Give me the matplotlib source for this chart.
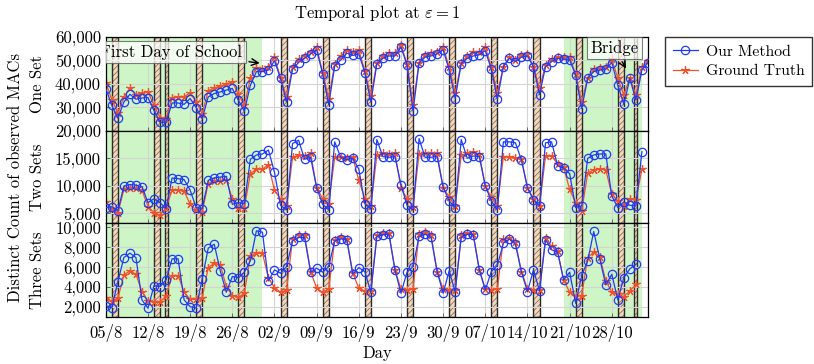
import matplotlib
matplotlib.use("Agg")
import matplotlib.pyplot as plt
import numpy as np
from matplotlib.ticker import FuncFormatter

plt.rcParams["font.family"] = "cmr10"
plt.rcParams["mathtext.fontset"] = "cm"
plt.rcParams["axes.formatter.use_mathtext"] = True
plt.rcParams["font.size"] = 12
plt.rcParams["hatch.linewidth"] = 0.6

# x = day index, starting at 05/8
tick_days = [0, 7, 14, 21, 28, 35, 42, 49, 56, 63, 70, 77, 84]
tick_labels = ["05/8", "12/8", "19/8", "26/8", "02/9", "09/9", "16/9", "23/9",
               "30/9", "07/10", "14/10", "21/10", "28/10"]
holiday_spans = [(0, 26), (76, 89)]
weekend_bars = [(1, 2), (8, 9), (15, 16), (22, 23), (29, 30), (36, 37), (43, 44),
                (50, 51), (57, 58), (64, 65), (71, 72), (78, 79), (85, 86)]
narrow_bars = [(9.75, 10.25), (87.75, 88.25)]

one_ours = [37900, 30800, 25300, 32200, 35500, 33400, 33900, 34100, 28600, 23500,
            23600, 31800, 31800, 31200, 33700, 29800, 25000, 34400, 35800, 36500,
            37300, 38000, 33000, 28300, 39400, 45200, 45200, 45900, 49900, 42300,
            32200, 46200, 49100, 50900, 52800, 54500, 44200, 31100, 47600, 50200,
            53100, 52100, 52800, 44800, 32200, 48500, 50900, 51900, 51900, 55700,
            48100, 28300, 48800, 51400, 51900, 52800, 54500, 45900, 33700, 48500,
            50900, 51900, 52400, 54200, 46200, 33400, 47300, 50900, 49500, 51400,
            51900, 47100, 35400, 47300, 49500, 50900, 50500, 50200, 43700, 29400,
            42300, 45200, 45900, 46200, 49100, 39400, 31200, 42300, 33000, 45900,
            49100]
one_truth = [40400, 33100, 27600, 34400, 38000, 35400, 36100, 36500, 30800, 25400,
             25000, 34100, 34400, 34400, 36100, 32200, 27200, 37000, 38300, 39000,
             39900, 40900, 35500, 30800, 42300, 46600, 46200, 47300, 51400, 42600,
             34400, 47300, 50500, 51900, 53800, 55700, 44800, 33700, 48500, 51700,
             54500, 53800, 54500, 45500, 34700, 49100, 51900, 53100, 53100, 56700,
             48500, 30800, 49100, 52400, 53100, 53800, 55700, 47100, 36100, 49100,
             51900, 53400, 53400, 55700, 47300, 36100, 47300, 51400, 50200, 52400,
             52800, 47300, 38000, 48100, 50500, 51400, 51400, 51400, 44200, 32200,
             42600, 46200, 46600, 47100, 50500, 42300, 35100, 42600, 35100, 47300,
             49900]

two_ours = [6040, 6160, 5440, 9940, 10240, 10120, 9820, 6940, 7660, 6940,
            5860, 11430, 11310, 11130, 9220, 6040, 5860, 11010, 11430, 11610,
            11730, 6640, 6940, 6760, 14850, 15630, 15810, 16530, 12450, 6460,
            5620, 17720, 18320, 14850, 15210, 9640, 6640, 5620, 18020, 15210,
            14730, 15030, 13050, 6760, 5740, 18440, 15330, 15210, 15330, 10240,
            6460, 5620, 18620, 15210, 15210, 15330, 9760, 7240, 6040, 18440,
            15030, 15450, 15330, 9940, 7240, 5620, 18020, 18020, 17840, 14730,
            9640, 7420, 6340, 17840, 18020, 13650, 13230, 12210, 6040, 6340,
            15030, 15630, 15810, 15810, 8140, 6040, 7060, 6460, 6340, 16230]
two_truth = [7060, 5740, 5020, 9340, 9640, 9520, 9220, 6220, 5140, 4670,
             6040, 9160, 9160, 9040, 6640, 5620, 5260, 10420, 10840, 10950,
             11130, 7660, 6040, 6040, 12210, 13050, 13050, 13830, 9220, 7540,
             6340, 15210, 15630, 15450, 15930, 9640, 7660, 6640, 15210, 15330,
             15030, 15210, 11010, 7660, 6340, 15630, 15930, 15810, 15930, 9640,
             7660, 6160, 15810, 15930, 15930, 15930, 9640, 8020, 6340, 15630,
             15930, 16230, 15810, 9940, 7900, 6340, 15330, 15210, 15030, 14850,
             9640, 7660, 6340, 15450, 15450, 14010, 13410, 9340, 6940, 5440,
             12330, 12930, 13050, 12930, 8440, 7240, 6340, 7540, 7420, 13050]

three_ours = [2120, 1920, 4540, 6960, 7400, 6960, 2700, 1860, 4140, 4040,
              4710, 6830, 6830, 2700, 2020, 1860, 4810, 7900, 8300, 5620,
              3470, 5050, 4950, 5480, 6630, 9650, 9510, 4610, 5720, 5380,
              6050, 8640, 8980, 8980, 5480, 5890, 5480, 6050, 8640, 8840,
              8740, 5280, 5950, 5550, 3470, 9080, 9250, 9310, 5720, 3370,
              5480, 6050, 9080, 9310, 8980, 5550, 3370, 5620, 3530, 8980,
              9310, 9250, 5720, 3700, 5550, 6160, 8400, 8840, 8300, 5480,
              3530, 5720, 3600, 8740, 7740, 7500, 4710, 5480, 2360, 5150,
              6630, 9580, 6830, 4210, 5280, 2700, 4950, 5820, 6290]
three_truth = [2860, 2590, 2860, 5210, 5620, 5280, 3530, 2590, 2460, 2460,
               3130, 5150, 5150, 3470, 2760, 2760, 2930, 5950, 6390, 6220,
               4040, 3130, 2960, 3370, 7130, 7400, 7400, 4880, 3940, 3470,
               3700, 8840, 9250, 9180, 5550, 3870, 3470, 3800, 8740, 8980,
               8840, 5380, 3870, 3600, 3600, 9250, 9410, 9410, 5720, 3800,
               3700, 3800, 9310, 9510, 9180, 5550, 3800, 3700, 3700, 9180,
               9410, 9310, 5720, 3800, 3700, 3800, 8840, 8910, 8500, 5550,
               3800, 3700, 3700, 8910, 8070, 7630, 4710, 3470, 3130, 3130,
               6960, 7500, 7060, 4610, 3470, 3270, 3030, 3600, 4270]

panels = [
    ("One Set", one_ours, one_truth, (19800, 60000), [30000, 40000, 50000, 60000]),
    ("Two Sets", two_ours, two_truth, (3230, 20000), [5000, 10000, 15000, 20000]),
    ("Three Sets", three_ours, three_truth, (980, 10430), [2000, 4000, 6000, 8000, 10000]),
]

BLUE = "#1f3cf5"
RED = "#f0522c"
GREEN = "#cdf5c5"

fig = plt.figure(figsize=(8.14, 3.64), dpi=100)
boxes = [[0.130, 0.6401, 0.666, 0.2582],
         [0.130, 0.3874, 0.666, 0.2527],
         [0.130, 0.1291, 0.666, 0.2582]]
axes = []
for box, (name, ours, truth, ylim, yticks) in zip(boxes, panels):
    ax = fig.add_axes(box)
    for a, b in holiday_spans:
        ax.axvspan(a, b, facecolor=GREEN, edgecolor="none", zorder=0.5)
    for a, b in weekend_bars + narrow_bars:
        ax.axvspan(a, b, facecolor="#f3d8bc", edgecolor="#8a7260", hatch="//////",
                   lw=0, zorder=0.8)
        ax.axvspan(a, b, fill=False, edgecolor="#2a2a2a", lw=1.0, zorder=0.9)
    x = np.arange(len(ours))
    ax.plot(x, ours, color=BLUE, lw=0.9, marker="o", markersize=6,
            markerfacecolor="none", markeredgewidth=0.9, label="Our Method", zorder=3)
    ax.plot(x, truth, color=RED, lw=0.9, marker=(5, 2, 0), markersize=6,
            markeredgewidth=0.9, label="Ground Truth", zorder=2.5)
    ax.set_xlim(0, 90)
    ax.set_ylim(*ylim)
    ax.set_yticks(yticks)
    ax.yaxis.set_major_formatter(FuncFormatter(lambda v, p: f"{v:,.0f}"))
    ax.set_xticks(tick_days)
    ax.set_axisbelow("line")
    ax.grid(True, color="#d4d4d4", lw=0.8)
    ax.tick_params(direction="in", length=3, width=0.6, color="#555555",
                   labelsize=12)
    ax.set_ylabel(name, fontsize=12)
    ax.yaxis.set_label_coords(-0.112, 0.5)
    for s in ax.spines.values():
        s.set_linewidth(0.9)
    axes.append(ax)

for ax in axes[:2]:
    ax.tick_params(labelbottom=False)
axes[2].set_xticklabels(tick_labels)
axes[2].tick_params(axis="x", pad=5)
axes[2].set_xlabel("Day", fontsize=12, labelpad=3)

axes[0].set_title(r"Temporal plot at $\varepsilon = 1$", fontsize=12, pad=14)
fig.text(15 / 814, 0.5 * (0.1291 + 0.8983), "Distinct Count of observed MACs",
         rotation=90, ha="center", va="center", fontsize=12)

box_style = dict(boxstyle="square,pad=0.2", facecolor="white", alpha=0.75,
                 edgecolor="#555555", lw=0.8)
axes[0].annotate("First Day of School", xy=(26, 48700), xytext=(10.9, 53600),
                 ha="center", va="center", bbox=box_style, clip_on=True,
                 fontsize=12,
                 arrowprops=dict(arrowstyle="->", color="black", lw=1.0))
axes[0].annotate("Bridge", xy=(86.6, 45500), xytext=(84.4, 55400),
                 ha="center", va="center", bbox=box_style, clip_on=True,
                 fontsize=12,
                 arrowprops=dict(arrowstyle="->", color="black", lw=1.0))

axes[0].legend(loc="upper left", bbox_to_anchor=(1.031, 1.0), borderaxespad=0,
               fancybox=False, edgecolor="#333333", framealpha=1, numpoints=1,
               handlelength=1.6, borderpad=0.5, labelspacing=0.35,
               handletextpad=0.5, fontsize=11.3)

fig.savefig("out.png", dpi=100)
